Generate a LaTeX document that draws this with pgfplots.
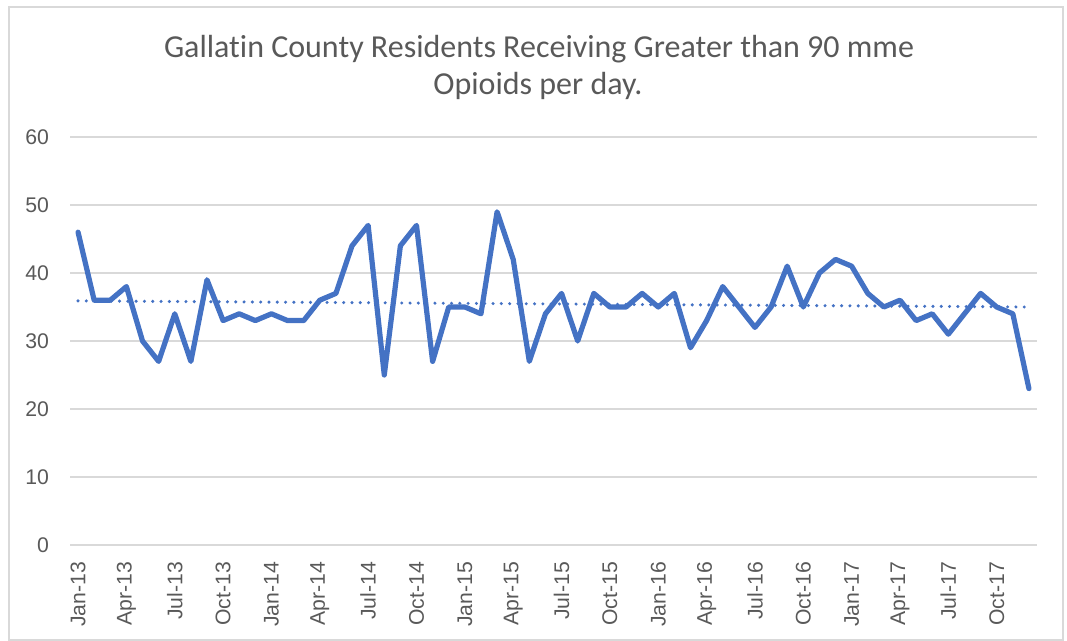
\documentclass[border=0pt]{standalone}
\usepackage{pgfplots}
\pgfplotsset{compat=1.18}
\usepackage{fontspec}
\setmainfont[RawFeature=-liga]{Carlito}
\newfontfamily\tickfont{Liberation Sans}
\definecolor{linecol}{HTML}{4472C4}
\definecolor{txt}{HTML}{595959}
\definecolor{gridc}{HTML}{D9D9D9}
\pgfplotstableread{
x y
0 46
1 36
2 36
3 38
4 30
5 27
6 34
7 27
8 39
9 33
10 34
11 33
12 34
13 33
14 33
15 36
16 37
17 44
18 47
19 25
20 44
21 47
22 27
23 35
24 35
25 34
26 49
27 42
28 27
29 34
30 37
31 30
32 37
33 35
34 35
35 37
36 35
37 37
38 29
39 33
40 38
41 35
42 32
43 35
44 41
45 35
46 40
47 42
48 41
49 37
50 35
51 36
52 33
53 34
54 31
55 34
56 37
57 35
58 34
59 23
}\datatable
\begin{document}
\begin{tikzpicture}[x=0.5pt,y=0.5pt]
\useasboundingbox (0,0) rectangle (1067,641);
\draw[gridc, line width=0.7pt] (9,1) rectangle (1063,634);
\node[txt, font=\fontsize{16}{19}\selectfont, anchor=base] at (539,583) {Gallatin County Residents Receiving Greater than 90 mme};
\node[txt, font=\fontsize{16}{19}\selectfont, anchor=base] at (538,546) {Opioids per day.};
\begin{axis}[
  at={(35pt,48pt)}, anchor=south west,
  scale only axis, width=483.5pt, height=204pt,
  xmin=-0.5, xmax=59.5, ymin=0, ymax=60,
  ytick={0,10,...,60},
  xtick={0,3,...,57},
  xticklabels={Jan-13,Apr-13,Jul-13,Oct-13,Jan-14,Apr-14,Jul-14,Oct-14,Jan-15,Apr-15,Jul-15,Oct-15,Jan-16,Apr-16,Jul-16,Oct-16,Jan-17,Apr-17,Jul-17,Oct-17},
  tick label style={font=\tickfont\fontsize{10.6}{12}\selectfont, text=txt},
  x tick label style={rotate=90, anchor=east},
  xticklabel shift=5pt,
  yticklabel shift=7pt,
  /pgf/number format/assume math mode=true,
  axis line style={draw=none},
  major tick style={draw=none},
  ymajorgrids, grid style={gridc, line width=0.6pt},
  clip=false,
]
\addplot[linecol, line width=2.6pt, line join=round, line cap=round] table[x=x,y=y]{\datatable};
\addplot[linecol, line width=1.7pt, line cap=round, dash pattern=on 0pt off 4.15pt] coordinates {(0,35.9) (59,35.0)};
\end{axis}
\end{tikzpicture}
\end{document}
